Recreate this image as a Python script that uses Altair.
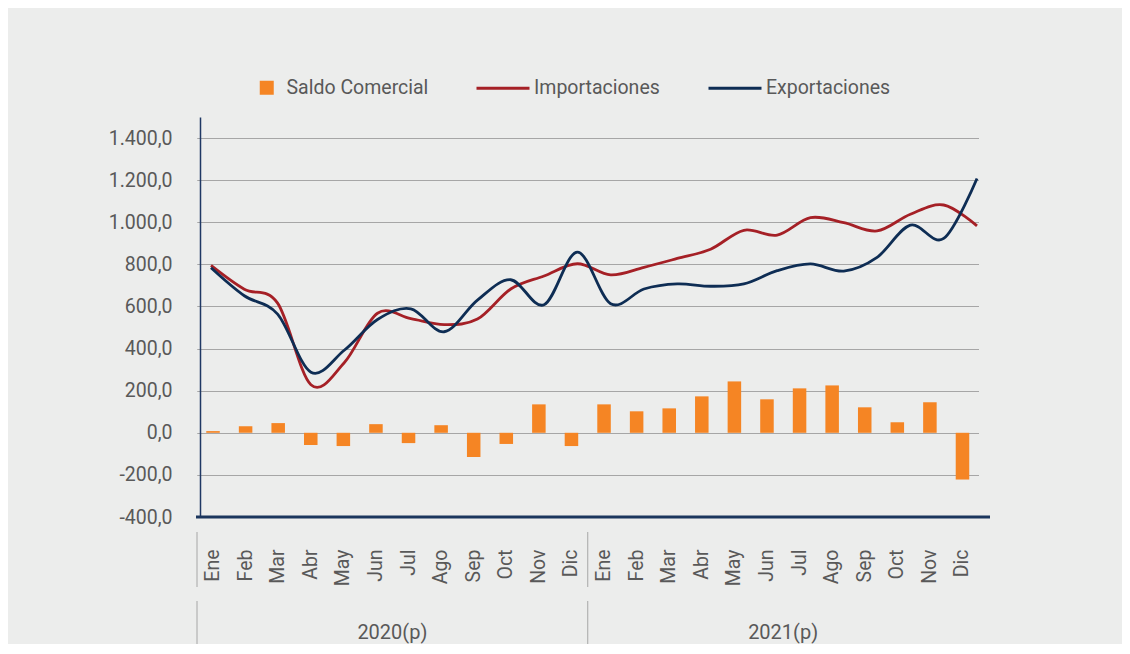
import altair as alt
import pandas as pd

# ---------------- data ----------------
months = ["Ene", "Feb", "Mar", "Abr", "May", "Jun", "Jul", "Ago", "Sep", "Oct", "Nov", "Dic"]
years = ["2020(p)", "2021(p)"]

saldo_2020 = [8, 31, 46, -58, -63, 41, -49, 36, -115, -53, 135, -63]
saldo_2021 = [135, 102, 116, 173, 244, 159, 211, 225, 121, 50, 145, -222]

importaciones_2020 = [795, 682, 616, 228, 333, 568, 542, 514, 540, 683, 745, 803]
importaciones_2021 = [750, 786, 828, 872, 962, 939, 1022, 998, 959, 1038, 1082, 983]

exportaciones_2020 = [784, 651, 564, 288, 392, 538, 589, 480, 630, 727, 608, 858]
exportaciones_2021 = [613, 683, 707, 696, 707, 770, 802, 768, 833, 986, 923, 1208]

y_ticks = [-400, -200, 0, 200, 400, 600, 800, 1000, 1200, 1400]

# ---------------- tables ----------------
keys = [f"{m} {y[:4]}" for y in years for m in months]
idx = list(range(len(keys)))
saldo = saldo_2020 + saldo_2021
imp = importaciones_2020 + importaciones_2021
exp = exportaciones_2020 + exportaciones_2021

bars_df = pd.DataFrame({"key": keys, "idx": idx, "serie": "Saldo Comercial", "valor": saldo})
lines_df = pd.DataFrame({
    "key": keys * 2,
    "idx": idx * 2,
    "serie": ["Importaciones"] * len(keys) + ["Exportaciones"] * len(keys),
    "valor": imp + exp,
})
years_df = pd.DataFrame({"year": years})

# ---------------- style ----------------
FONT = "Roboto, Liberation Sans, sans-serif"
TXT = "#595959"
GRID = "#a6a6a6"
NAVY = "#1f3864"
ORANGE = "#f58524"
RED = "#a52026"
BLUE = "#0e2d54"

y_scale = alt.Scale(domain=[-400, 1500], nice=False, zero=False)
y_axis = alt.Axis(
    values=y_ticks, title=None, grid=True, gridColor=GRID, gridWidth=1,
    domain=True, domainColor=NAVY, domainWidth=1.5,
    ticks=True, tickColor=GRID, tickSize=3, tickWidth=1,
    labelPadding=25, labelFont=FONT, labelFontSize=19.5, labelColor=TXT,
    labelExpr="replace(replace(replace(replace(format(datum.value, ',.1f'), ',', '_'), '.', ','), '_', '.'), '\u2212', '-')",
)

bars = alt.Chart(bars_df).mark_bar().encode(
    x=alt.X(
        "key:N", sort=keys,
        scale=alt.Scale(domain=keys, range=[-3, 778.5], paddingInner=0.585, paddingOuter=0.284),
        axis=alt.Axis(
            orient="bottom", title=None, labelAngle=270, labelPadding=32,
            ticks=False, domain=False, grid=False, labelOverlap=False,
            labelExpr="substring(datum.value, 0, 3)",
            labelFont=FONT, labelFontSize=19.5, labelColor=TXT,
        ),
    ),
    y=alt.Y("valor:Q", scale=y_scale, axis=y_axis),
    fill=alt.Fill(
        "serie:N",
        scale=alt.Scale(domain=["Saldo Comercial"], range=[ORANGE]),
        legend=alt.Legend(
            orient="none", legendX=57, legendY=-39, direction="horizontal", title=None,
            symbolType="square", symbolSize=196, symbolStrokeWidth=0, labelOffset=10,
            labelFont=FONT, labelFontSize=19.5, labelColor=TXT, padding=0, labelLimit=400,
        ),
    ),
)

lines = alt.Chart(lines_df).mark_line(strokeWidth=2.8, interpolate="cardinal", tension=0).encode(
    x=alt.X("key:N", sort=keys,
            scale=alt.Scale(type="point", domain=keys, range=[11, 777], padding=0),
            axis=None),
    y=alt.Y("valor:Q", scale=y_scale, axis=y_axis),
    order=alt.Order("idx:Q"),
    stroke=alt.Stroke(
        "serie:N",
        scale=alt.Scale(domain=["Importaciones", "Exportaciones"], range=[RED, BLUE]),
        legend=alt.Legend(
            orient="none", legendX=275, legendY=-57, direction="horizontal", title=None,
            symbolType="stroke", symbolSize=2809, symbolStrokeWidth=3, labelOffset=3,
            columnPadding=42, labelFont=FONT, labelFontSize=19.5, labelColor=TXT, padding=0,
            labelLimit=400,
        ),
    ),
)

year_scale = alt.Scale(domain=years, range=[-3, 778.5], paddingInner=0, paddingOuter=0)

year_upper = alt.Chart(years_df).mark_rule(color=GRID, strokeWidth=1).encode(
    x=alt.X("year:N", bandPosition=0, scale=year_scale, axis=None),
    y=alt.value(415), y2=alt.value(470),
)

year_lower = alt.Chart(years_df).mark_rule(color=GRID, strokeWidth=1).encode(
    x=alt.X(
        "year:N", bandPosition=0, scale=year_scale,
        axis=alt.Axis(
            orient="bottom", title=None, ticks=False, domain=False, grid=False,
            labelAngle=0, labelPadding=115, labelBaseline="middle",
            labelFont=FONT, labelFontSize=20, labelColor=TXT,
        ),
    ),
    y=alt.value(484), y2=alt.value(528),
)

x_axis_line = alt.Chart(years_df.head(1)).mark_rule(color="#1b365d", strokeWidth=3).encode(
    y=alt.datum(-400), x=alt.value(-4), x2=alt.value(790),
)

chart = (
    alt.layer(bars, lines, year_upper, year_lower, x_axis_line)
    .resolve_scale(x="independent")
    .properties(
        width=787, height=400,
        autosize=alt.AutoSizeParams(type="none"),
        padding={"left": 192, "top": 109, "right": 135, "bottom": 127},
        background="#ecedec",
    )
    .configure_view(stroke=None)
)

chart.save("out.html", embed_options={"renderer": "svg", "actions": False})
